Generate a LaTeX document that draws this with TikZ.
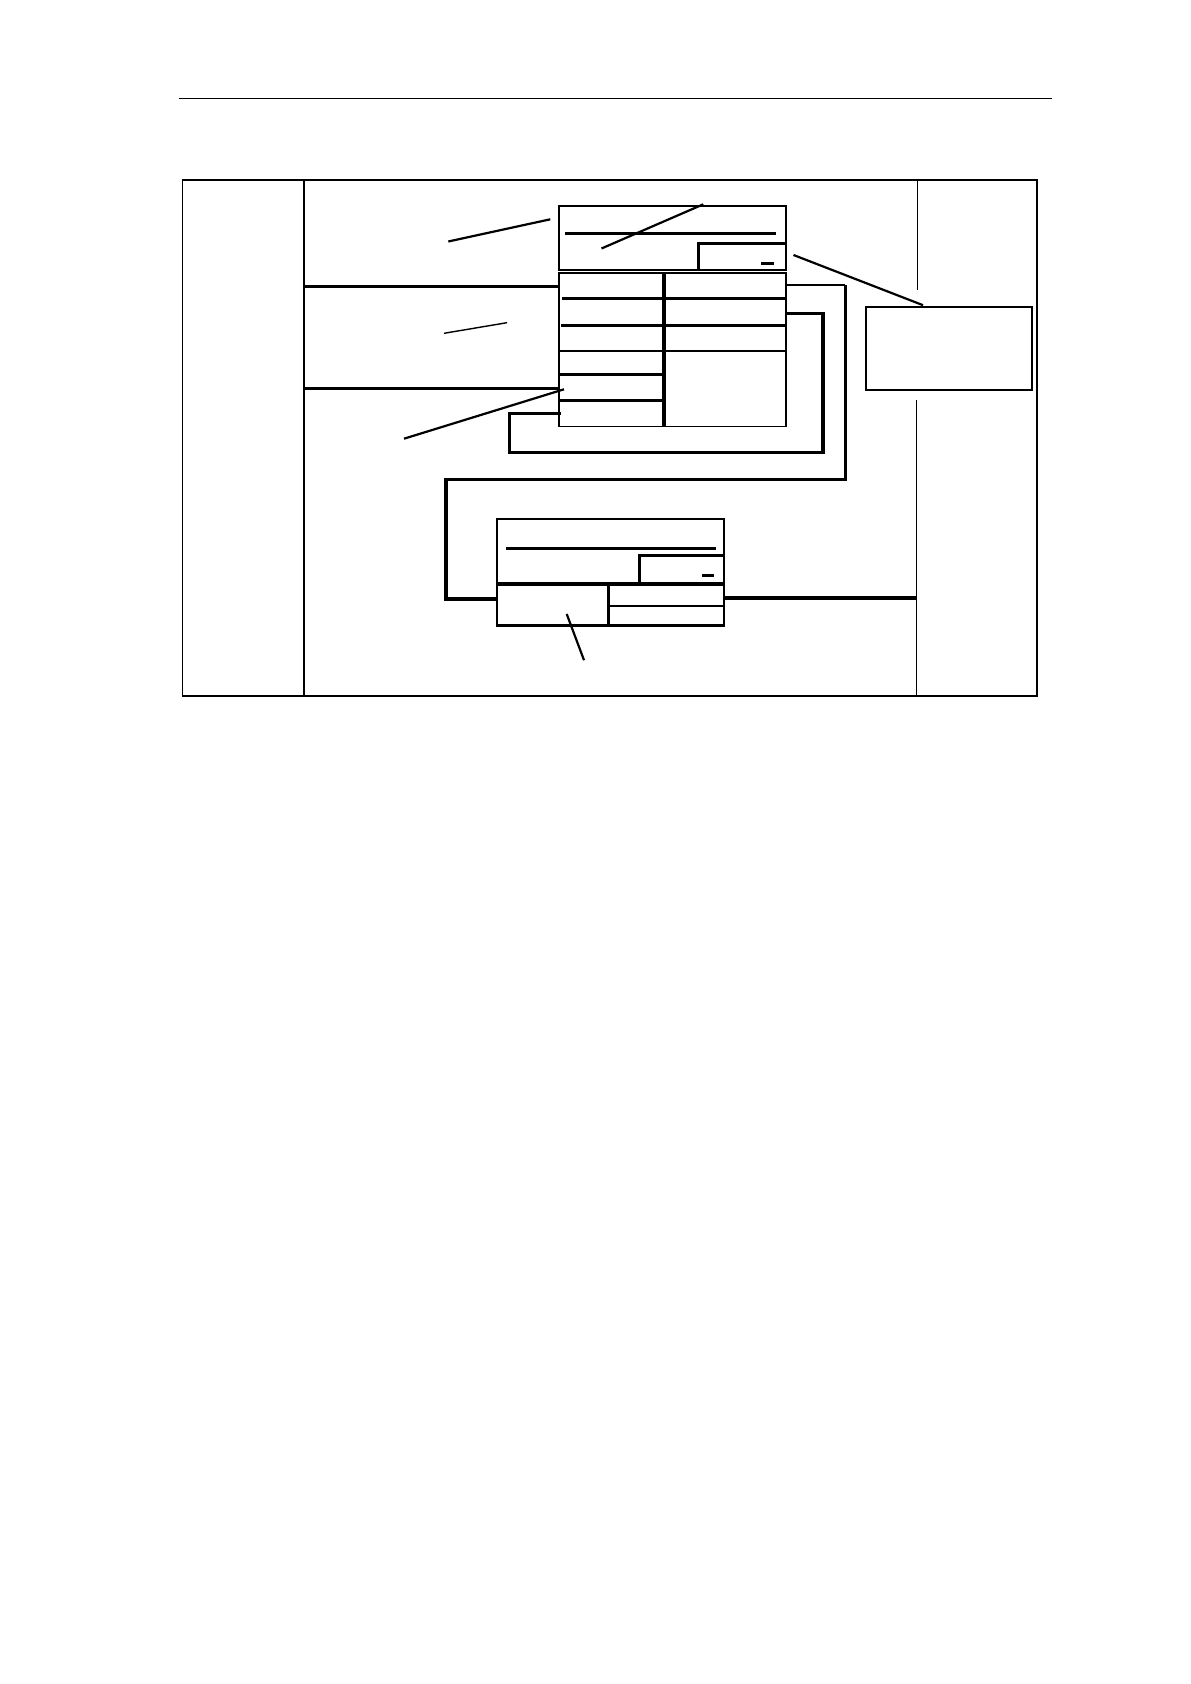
\documentclass[tikz,border=0pt]{standalone}
\begin{document}
\begin{tikzpicture}[x=0.5pt,y=-0.5pt,
  hdr/.style={line width=0.6pt},
  frm/.style={line width=0.85pt},
  hair/.style={line width=0.5pt},
  boxln/.style={line width=0.9pt},
  thk/.style={line width=1.65pt},
  mid/.style={line width=1.15pt},
  lead/.style={line width=1.1pt},
  leadthin/.style={line width=0.7pt}]
\useasboundingbox[fill=white] (0,0) rectangle (1190,1684);
% header rule
\coordinate (hL) at (178.5,98.3); \coordinate (hR) at (1052,98.3);
\draw[hdr] (hL) -- (hR);
% frame
\coordinate (fTL) at (182.5,180.3); \coordinate (fBR) at (1037,695.7);
\draw[frm] (fTL) rectangle (fBR);
\draw[line width=0.9pt] (304,180.3) -- (304,695.7);
\draw[hair] (917,178.7) -- (917,290);
\draw[hair] (916.5,400) -- (916.5,695.7);
% top box
\coordinate (tbTL) at (559.3,205.7); \coordinate (tbBR) at (786,269.8);
\draw[boxln] (tbTL) rectangle (tbBR);
\draw[thk] (565,233.2) -- (776,233.2);
\draw[thk] (698.3,269.8) -- (698.3,243.3) -- (784.5,243.3);
\draw[thk] (761,263.7) -- (774,263.7);
\draw[lead] (703.3,204.3) -- (601.5,248.5);
\draw[lead] (448.3,241.5) -- (550.3,219.3);
% table
\coordinate (taTL) at (559.3,273); \coordinate (taBR) at (786,426.6);
\draw[boxln] (taTL) rectangle (taBR);
\draw[thk] (664,273) -- (664,426.6);
\draw[thk] (562,298.3) -- (784.5,298.3);
\draw[thk] (561,325.3) -- (785,325.3);
\draw[boxln] (559.3,351) -- (786,351);
\draw[thk] (559.3,374.2) -- (664,374.2);
\draw[thk] (559.3,400.3) -- (664,400.3);
% left connectors
\draw[thk] (304,286.7) -- (559.3,286.7);
\draw[thk] (304,388.5) -- (559.3,388.5);
\draw[leadthin] (444,333.3) -- (507,322.7);
\draw[lead] (404,438.7) -- (564,389.3);
% inner loop
\draw[thk] (560.7,413.3) -- (509.5,413.3) -- (509.5,452.5) -- (823,452.5) -- (823,313.3) -- (786,313.3);
% outer loop
\draw[boxln] (786,285.4) -- (845.3,285.4);
\draw[thk] (845.3,284.8) -- (845.3,479.3) -- (446,479.3) -- (446,599) -- (497.3,599);
% right box
\coordinate (rbTL) at (866,307); \coordinate (rbBR) at (1032.3,389.7);
\draw[mid] (rbTL) rectangle (rbBR);
\draw[lead] (793.5,255) -- (923,305.2);
% lower box
\coordinate (lbTL) at (497.3,519); \coordinate (lbBR) at (724,625.5);
\draw[mid] (lbTL) rectangle (lbBR);
\draw[thk] (506,548.3) -- (716,548.3);
\draw[thk] (639.3,584) -- (639.3,555.5) -- (724,555.5);
\draw[thk] (497.3,584) -- (724,584);
\draw[thk] (608.3,584) -- (608.3,625.5);
\draw[mid] (608.3,605.7) -- (724,605.7);
\draw[thk] (702,575.3) -- (714,575.3);
\draw[lead] (566.7,614) -- (584,660.2);
\draw[thk] (724,598) -- (916.5,598);
\end{tikzpicture}
\end{document}
